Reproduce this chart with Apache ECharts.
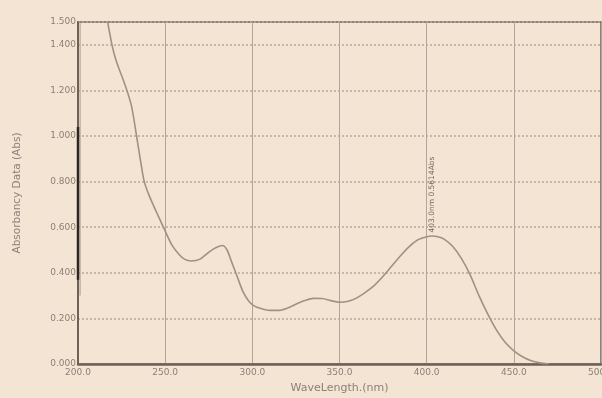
<!DOCTYPE html>
<html>
<head>
<meta charset="utf-8">
<script src="https://cdn.jsdelivr.net/npm/echarts@6/dist/echarts.min.js"></script>
<style>
  html, body { margin: 0; padding: 0; background: #f3e4d3; }
  #chart { width: 602px; height: 398px; }
</style>
</head>
<body>
<div id="chart"></div>
<script>
// Absorbance spectrum (nm vs Abs)
const wavelengths = [217.0, 219.5, 221.5, 224.0, 226.0, 228.5, 230.8, 233.6, 236.0, 238.0, 240.5, 243.0, 246.0, 249.0,
  254.0, 258.0, 261.0, 265.0, 270.0, 275.0, 279.0, 283.0, 285.5, 288.0, 291.0, 294.5, 298.0, 301.0, 305.0,
  310.0, 315.0, 320.0, 325.0, 330.0, 335.0, 340.0, 345.0, 350.0, 355.0, 360.0, 365.0, 370.0, 375.0, 380.0,
  385.0, 390.0, 395.0, 400.0, 403.0, 406.0, 410.0, 415.0, 420.0, 425.0, 430.0, 435.0, 440.0, 445.0, 450.0,
  455.0, 460.0, 465.0, 470.0];
const absorbance = [1.500, 1.400, 1.340, 1.285, 1.245, 1.190, 1.128, 1.000, 0.885, 0.800, 0.745, 0.700, 0.650, 0.600,
  0.520, 0.480, 0.460, 0.452, 0.460, 0.490, 0.510, 0.520, 0.500, 0.450, 0.390, 0.320, 0.275, 0.255, 0.243,
  0.235, 0.235, 0.245, 0.262, 0.278, 0.288, 0.287, 0.278, 0.271, 0.275, 0.290, 0.315, 0.345, 0.385, 0.430,
  0.475, 0.515, 0.545, 0.558, 0.5614, 0.559, 0.548, 0.515, 0.462, 0.390, 0.300, 0.220, 0.150, 0.095, 0.058,
  0.032, 0.014, 0.005, 0.000];

// Off-scale trace at the start of the scan
const edgeTraceX = [201.2, 201.2];
const edgeTraceY = [0.30, 1.50];
const edgeSpikeX = [200.0, 200.0];
const edgeSpikeY = [0.37, 1.04];

// Peak pick
const peakNm = 403.0;
const peakAbs = 0.5614;

const xTicks = { min: 200, max: 500, step: 50 };
const yTicks = { min: 0, max: 1.5, step: 0.2 };

const zip = (xs, ys) => xs.map((x, i) => [x, ys[i]]);

const axisText = { color: '#8c8178', fontSize: 9, fontFamily: 'DejaVu Sans' };

const chart = echarts.init(document.getElementById('chart'));
chart.setOption({
  backgroundColor: '#f3e4d3',
  animation: false,
  grid: {
    left: 78, right: 1, top: 22, bottom: 34,
    outerBoundsMode: 'none',
    containLabel: false,
    show: true, borderColor: '#6e6258', borderWidth: 1.5, backgroundColor: 'transparent'
  },
  xAxis: {
    type: 'value',
    min: xTicks.min, max: xTicks.max, interval: xTicks.step,
    name: 'WaveLength.(nm)',
    nameLocation: 'middle',
    nameGap: 19,
    nameTextStyle: { color: '#8c8178', fontSize: 11, fontFamily: 'DejaVu Sans' },
    axisLine: { show: true, lineStyle: { color: '#6e6258', width: 2.5 } },
    axisTick: { show: false },
    axisLabel: Object.assign({ margin: 4, formatter: v => v.toFixed(1) }, axisText),
    splitLine: { show: true, lineStyle: { color: '#b3a495', width: 1, type: 'solid' } }
  },
  yAxis: {
    type: 'value',
    min: yTicks.min, max: yTicks.max, interval: yTicks.step,
    name: 'Absorbancy Data (Abs)',
    nameLocation: 'middle',
    nameGap: 55,
    nameTextStyle: { color: '#8c8178', fontSize: 10.5, fontFamily: 'DejaVu Sans' },
    axisLine: { show: true, lineStyle: { color: '#6e6258', width: 2 } },
    axisTick: { show: false },
    axisLabel: Object.assign({ margin: 2, formatter: v => v.toFixed(3) }, axisText),
    splitLine: { show: true, lineStyle: { color: '#b8a898', width: 1.5, type: [2, 2] } }
  },
  series: [
    {
      type: 'line',
      data: zip(edgeTraceX, edgeTraceY),
      symbol: 'none',
      silent: true,
      lineStyle: { color: '#ab9c8c', width: 1 }
    },
    {
      type: 'line',
      data: zip(edgeSpikeX, edgeSpikeY),
      symbol: 'none',
      silent: true,
      lineStyle: { color: '#2e2622', width: 2.5 }
    },
    {
      type: 'line',
      data: zip(wavelengths, absorbance),
      symbol: 'none',
      smooth: 0.3,
      clip: true,
      lineStyle: { color: '#a09282', width: 1.6 },
      markPoint: {
        symbol: 'circle',
        symbolSize: 1,
        itemStyle: { color: 'transparent' },
        silent: true,
        data: [{ coord: [peakNm, peakAbs] }],
        label: {
          show: true,
          position: 'top',
          distance: 3,
          rotate: 90,
          align: 'left',
          verticalAlign: 'middle',
          formatter: peakNm.toFixed(1) + 'nm ' + peakAbs.toFixed(4) + 'Abs',
          fontSize: 7.5,
          color: '#75685d',
          fontFamily: 'DejaVu Sans'
        }
      }
    }
  ]
});
</script>
</body>
</html>
